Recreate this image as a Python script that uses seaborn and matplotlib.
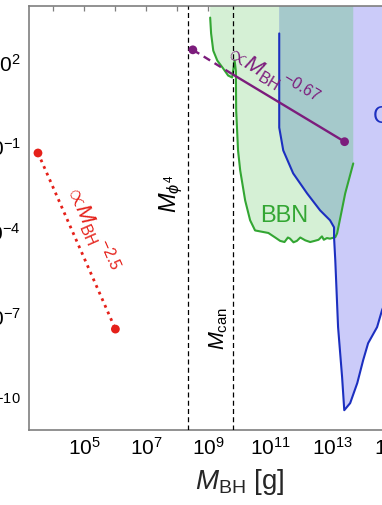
import math
import matplotlib
matplotlib.use("Agg")
import matplotlib.pyplot as plt
import seaborn as sns
import pandas as pd
from matplotlib.ticker import FixedLocator, FuncFormatter, NullLocator

# ---------------- data (all values are log10) ----------------
x_range = [3.22, 16.8]          # log10 M_BH [g]
y_range = [-11.0, 4.0]
x_tick_exps = list(range(3, 18))
y_tick_exps = list(range(-11, 5))
x_label_exps = [5, 7, 9, 11, 13, 15, 17]
y_label_exps = [2, -1, -4, -7, -10]

m_phi4 = 8.36
m_can = 9.79

red_x = [3.50, 6.00]
red_y = [-1.20, -7.43]

purple_dash_x = [8.50, 9.79]
purple_dash_y = [2.45, 1.58]
purple_solid_x = [9.79, 13.40]
purple_solid_y = [1.58, -0.80]

bbn_x = [9.06, 9.09, 9.16, 9.29, 9.48, 9.64, 9.77, 9.85, 9.89, 9.90, 9.96, 10.03,
         10.19, 10.35, 10.51, 10.94, 11.16, 11.32, 11.46, 11.57, 11.64, 11.75,
         11.86, 11.97, 12.13, 12.29, 12.43, 12.56, 12.67, 12.73, 12.83, 12.93,
         13.10, 13.16, 13.29, 13.42, 13.55, 13.68]
bbn_y = [3.59, 3.03, 2.42, 2.07, 1.79, 1.54, 1.47, 2.07, 1.70, 0.30, -1.11, -1.82,
         -2.88, -3.58, -3.94, -4.03, -4.19, -4.31, -4.35, -4.19, -4.23, -4.36,
         -4.31, -4.19, -4.29, -4.35, -4.31, -4.27, -4.15, -4.27, -4.21, -4.23,
         -4.18, -4.04, -3.34, -2.63, -2.10, -1.57]
bbn_right_start = 32   # where the BBN contour turns up on the right side

blue_x = [11.29, 11.29, 11.42, 11.74, 12.19, 12.61, 12.93, 13.06, 13.06, 13.10,
          13.19, 13.32, 13.39, 13.58, 13.81, 14.00, 14.16, 14.45, 14.61, 14.87, 15.19]
blue_y = [3.03, -0.30, -1.11, -1.92, -2.63, -3.23, -3.58, -3.83, -4.18, -5.00,
          -7.36, -9.13, -10.30, -10.05, -9.34, -8.53, -7.93, -7.36, -6.76, -6.06, -4.64]
blue_meet = 9          # blue contour points down to the BBN junction

# ---------------- style ----------------
sns.set_theme(style="white")
plt.rcParams["font.family"] = ["Liberation Sans", "DejaVu Sans"]
plt.rcParams["mathtext.fontset"] = "custom"
plt.rcParams["mathtext.rm"] = "Liberation Sans"
plt.rcParams["mathtext.it"] = "Liberation Sans:italic"
plt.rcParams["mathtext.bf"] = "Liberation Sans:bold"
plt.rcParams["mathtext.sf"] = "Liberation Sans"

GREEN_FILL = "#d5f0d5"
TEAL_FILL = "#a5c9cb"
LAV_FILL = "#cbcbf9"
GREEN = "#33a633"
BLUE = "#1c2fc0"
RED = "#e52019"
PURPLE = "#7c1c7c"
GREY = "#7f7f7f"

W, H = 382, 505
ax_left_px, ax_top_px, ax_bot_px = 29.3, 6.0, 430.0
dec_px = 30.97
ax_w_px = dec_px * (x_range[1] - x_range[0])

fig = plt.figure(figsize=(W / 100, H / 100), dpi=100)
fig.patch.set_facecolor("white")
ax = fig.add_axes([ax_left_px / W, 1 - ax_bot_px / H, ax_w_px / W, (ax_bot_px - ax_top_px) / H])
ax.set_xscale("log")
ax.set_yscale("log")
ax.set_xlim(10 ** x_range[0], 10 ** x_range[1])
ax.set_ylim(10 ** y_range[0], 10 ** y_range[1])

p = lambda v: [10 ** t for t in v]
top = y_range[1]

# green BBN region
gx = [bbn_x[0]] + bbn_x + [bbn_x[-1]]
gy = [top] + bbn_y + [top]
ax.fill(p(gx), p(gy), color=GREEN_FILL, lw=0, zorder=1)

# lavender region (right of blue contour)
lx = [blue_x[0]] + blue_x + [x_range[1] + 1, x_range[1] + 1]
ly = [top] + blue_y + [blue_y[-1], top]
ax.fill(p(lx), p(ly), color=LAV_FILL, lw=0, zorder=1)

# overlap region
tx = [blue_x[0]] + blue_x[:blue_meet] + bbn_x[bbn_right_start:] + [bbn_x[-1]]
ty = [top] + blue_y[:blue_meet] + bbn_y[bbn_right_start:] + [top]
ax.fill(p(tx), p(ty), color=TEAL_FILL, lw=0, zorder=1.5)

ax.plot(p(bbn_x), p(bbn_y), color=GREEN, lw=1.5, zorder=3)
ax.plot(p(blue_x), p(blue_y), color=BLUE, lw=1.5, zorder=3)

# vertical reference masses
for m in (m_phi4, m_can):
    ax.axvline(10 ** m, color="black", lw=0.9, ls=(0, (4.0, 2.6)), zorder=4)

# red scaling line
df_red = pd.DataFrame({"x": p(red_x), "y": p(red_y)})
sns.lineplot(data=df_red, x="x", y="y", ax=ax, color=RED, lw=2.0,
             linestyle=(0, (1.0, 1.6)), zorder=5)
sns.scatterplot(data=df_red, x="x", y="y", ax=ax, color=RED, s=40,
                edgecolor="none", zorder=6)

# purple scaling line
df_pd = pd.DataFrame({"x": p(purple_dash_x), "y": p(purple_dash_y)})
df_ps = pd.DataFrame({"x": p(purple_solid_x), "y": p(purple_solid_y)})
sns.lineplot(data=df_pd, x="x", y="y", ax=ax, color=PURPLE, lw=1.7,
             linestyle=(0, (3.2, 2.2)), zorder=5)
sns.lineplot(data=df_ps, x="x", y="y", ax=ax, color=PURPLE, lw=1.7, zorder=5)
df_pdots = pd.DataFrame({"x": p([purple_dash_x[0], purple_solid_x[-1]]),
                         "y": p([purple_dash_y[0], purple_solid_y[-1]])})
sns.scatterplot(data=df_pdots, x="x", y="y", ax=ax, color=PURPLE, s=40,
                edgecolor="none", zorder=6)


def angle(xs, ys):
    a = ax.transData.transform((10 ** xs[0], 10 ** ys[0]))
    b = ax.transData.transform((10 ** xs[-1], 10 ** ys[-1]))
    return math.degrees(math.atan2(b[1] - a[1], b[0] - a[0]))


ax.text(10 ** 5.22, 10 ** -3.85, r"$\propto\!{M_{\rm BH}}^{-2.5}$", color=RED,
        fontsize=16, rotation=angle(red_x, red_y), rotation_mode="anchor",
        ha="center", va="center", zorder=7)
ax.text(10 ** 11.05, 10 ** 1.52, r"$\propto\!{M_{\rm BH}}^{-0.67}$", color=PURPLE,
        fontsize=16, rotation=angle(purple_dash_x + purple_solid_x, purple_dash_y + purple_solid_y),
        rotation_mode="anchor", ha="center", va="center", zorder=7)

ax.text(10 ** 7.80, 10 ** -2.63, r"$M_{\phi^4}$", fontsize=17, rotation=90,
        ha="center", va="center", color="black", zorder=7)
ax.text(10 ** 9.32, 10 ** -7.40, r"$M_{\rm can}$", fontsize=15.5, rotation=90,
        ha="center", va="center", color="black", zorder=7)
ax.text(10 ** 11.45, 10 ** -3.44, "BBN", fontsize=17, color=GREEN,
        ha="center", va="center", zorder=7)
ax.text(10 ** 14.30, 10 ** 0.09, "CMB", fontsize=17, color=BLUE,
        ha="left", va="center", zorder=7)

# axes styling
ax.xaxis.set_major_locator(FixedLocator(p(x_tick_exps)))
ax.yaxis.set_major_locator(FixedLocator(p(y_tick_exps)))
ax.xaxis.set_minor_locator(NullLocator())
ax.yaxis.set_minor_locator(NullLocator())


def fmt(lbls):
    def f(v, pos):
        e = int(round(math.log10(v)))
        return r"$\mathdefault{10^{%d}}$" % e if e in lbls else ""
    return f


ax.xaxis.set_major_formatter(FuncFormatter(fmt(x_label_exps)))
ax.yaxis.set_major_formatter(FuncFormatter(fmt(y_label_exps)))
ax.tick_params(which="both", direction="in", top=True, right=True, length=3.5,
               width=0.9, color=GREY, labelsize=15, labelcolor="black")
ax.tick_params(axis="x", pad=5)
ax.tick_params(axis="y", pad=6)
for s in ax.spines.values():
    s.set_color(GREY)
    s.set_linewidth(1.2)
ax.set_xlabel(r"$M_{\rm BH}$ [g]", fontsize=20, labelpad=6)
ax.set_ylabel("")
ax.grid(False)

fig.savefig("out.png", dpi=100)
